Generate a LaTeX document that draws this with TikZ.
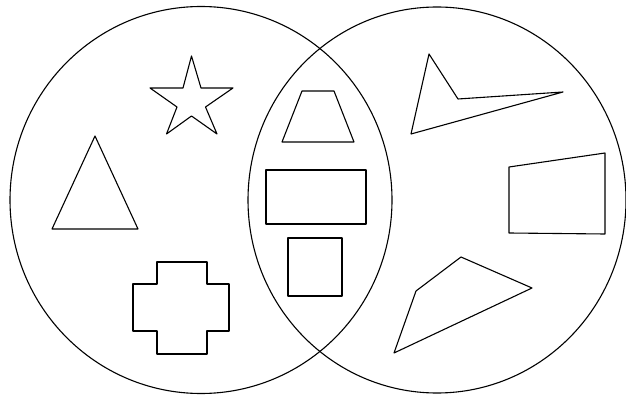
\documentclass[tikz,border=0pt]{standalone}
\begin{document}
\begin{tikzpicture}[x=1pt,y=-1pt,
  outline/.style={draw=black,line width=1.1pt,line join=round},
  setline/.style={draw=black,line width=1.1pt}]
\useasboundingbox (0,0) rectangle (626,395);
% sets
\draw[setline] (201,200) ellipse [x radius=191,y radius=193.5];
\draw[setline] (437,200) ellipse [x radius=189,y radius=193];
% left only
\draw[outline] (191.5,56) -- (201,88) -- (233,88) -- (205.5,107) -- (217,134)
  -- (191.5,116) -- (166.5,134) -- (177,107) -- (150,88) -- (183,88) -- cycle;
\draw[outline] (95,136) -- (138,229) -- (52,229) -- cycle;
\draw[outline] (157,262) -- (207,262) -- (207,284) -- (229,284) -- (229,331)
  -- (207,331) -- (207,354) -- (157,354) -- (157,331) -- (133,331)
  -- (133,284) -- (157,284) -- cycle;
% intersection
\draw[outline] (302,91) -- (334,91) -- (354,142) -- (282,142) -- cycle;
\draw[outline] (266,170) rectangle (366,224);
\draw[outline] (288,238) rectangle (342,296);
% right only
\draw[outline] (429,54) -- (458,99) -- (563,92) -- (411,134) -- cycle;
\draw[outline] (509,167) -- (605,153) -- (605,234) -- (509,233) -- cycle;
\draw[outline] (461,257) -- (532,288) -- (394,353) -- (416,291) -- cycle;
\end{tikzpicture}
\end{document}
